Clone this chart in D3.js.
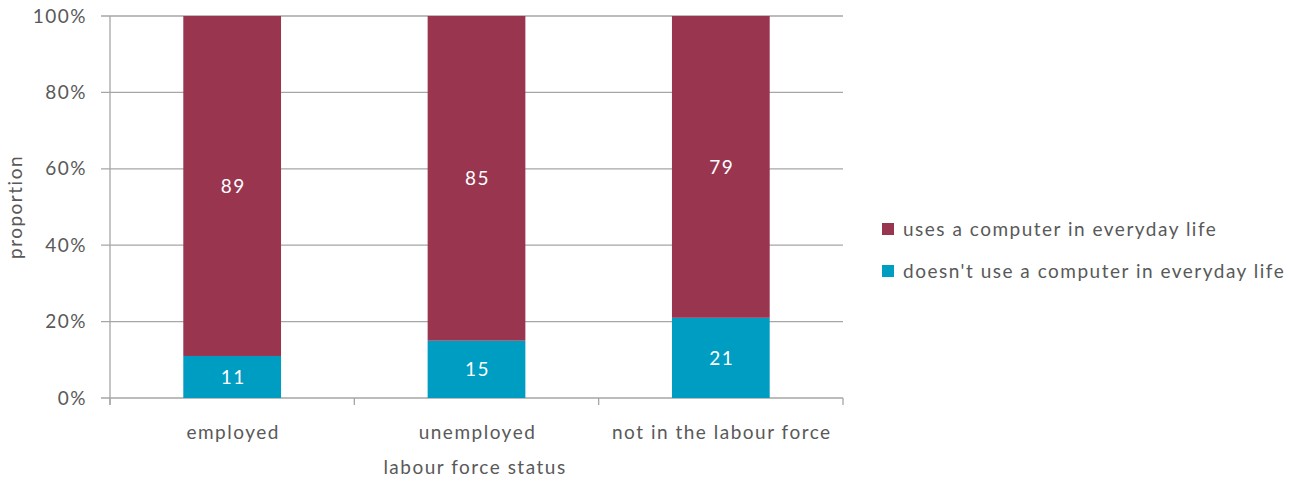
<!DOCTYPE html>
<html><head><meta charset="utf-8">
<script src="https://cdn.jsdelivr.net/npm/d3@7"></script>
<style>body{margin:0;background:#fff}text{font-family:Lato,"Open Sans",sans-serif;fill:#595959;font-size:19px;letter-spacing:1.5px}</style>
</head><body><svg id="c" width="1289" height="482"></svg>
<script>
const categories = ["employed", "unemployed", "not in the labour force"];
const seriesNames = ["doesn't use a computer in everyday life", "uses a computer in everyday life"];
const notUses = [11, 15, 21];
const uses = [89, 85, 79];
const yTicks = [0, 20, 40, 60, 80, 100];
const colors = {"uses": "#9a3550", "not": "#009dc3"};

const svg = d3.select("#c");
const L = 110, R = 843, T = 16, B = 398;
const x = d3.scaleBand().domain(categories).range([L, R]).paddingInner(0.6).paddingOuter(0.3);
const y = d3.scaleLinear().domain([0, 100]).range([B, T]);

svg.append("g").selectAll("line").data(yTicks).join("line")
  .attr("x1", L - 9).attr("x2", R).attr("y1", d => y(d)).attr("y2", d => y(d))
  .attr("stroke", "#a6a6a6").attr("stroke-width", 1.3);
svg.append("line").attr("x1", L).attr("x2", L).attr("y1", T).attr("y2", B + 7)
  .attr("stroke", "#a6a6a6").attr("stroke-width", 1.3);
const step = (R - L) / categories.length;
svg.append("g").selectAll("line").data(d3.range(categories.length + 1)).join("line")
  .attr("x1", i => L + i * step).attr("x2", i => L + i * step).attr("y1", B).attr("y2", B + 7)
  .attr("stroke", "#a6a6a6").attr("stroke-width", 1.3);

svg.append("g").selectAll("text").data(yTicks).join("text")
  .attr("x", L - 23).attr("y", d => y(d)).attr("dy", "0.35em").attr("text-anchor", "end")
  .text(d => d + "%");

const bw = x.bandwidth();
const g = svg.append("g");
categories.forEach((c, i) => {
  const cx = L + (i + 0.5) * step;
  const n = notUses[i], u = uses[i];
  g.append("rect").attr("x", cx - bw / 2).attr("width", bw)
    .attr("y", y(n)).attr("height", y(0) - y(n)).attr("fill", colors.not);
  g.append("rect").attr("x", cx - bw / 2).attr("width", bw)
    .attr("y", y(n + u)).attr("height", y(n) - y(n + u)).attr("fill", colors.uses);
  g.append("text").attr("x", cx + 1).attr("y", (y(0) + y(n)) / 2).attr("dy", "0.35em")
    .attr("text-anchor", "middle").style("fill", "#fff").text(n);
  g.append("text").attr("x", cx + 1).attr("y", (y(n) + y(n + u)) / 2).attr("dy", "0.35em")
    .attr("text-anchor", "middle").style("fill", "#fff").text(u);
  svg.append("text").attr("x", cx + 1).attr("y", 432).attr("dy", "0.35em")
    .attr("text-anchor", "middle").text(c);
});

svg.append("text").attr("x", 475).attr("y", 467).attr("dy", "0.35em").attr("text-anchor", "middle")
  .text("labour force status");
svg.append("text").attr("transform", "translate(15,207) rotate(-90)").attr("dy", "0.35em")
  .attr("text-anchor", "middle").text("proportion");

const leg = [{n: seriesNames[1], c: colors.uses, y: 229}, {n: seriesNames[0], c: colors.not, y: 271}];
const lg = svg.append("g").selectAll("g").data(leg).join("g");
lg.append("rect").attr("x", 882).attr("y", d => d.y - 6).attr("width", 12).attr("height", 12).attr("fill", d => d.c);
lg.append("text").attr("x", 903).attr("y", d => d.y).attr("dy", "0.35em").text(d => d.n);
</script></body></html>
